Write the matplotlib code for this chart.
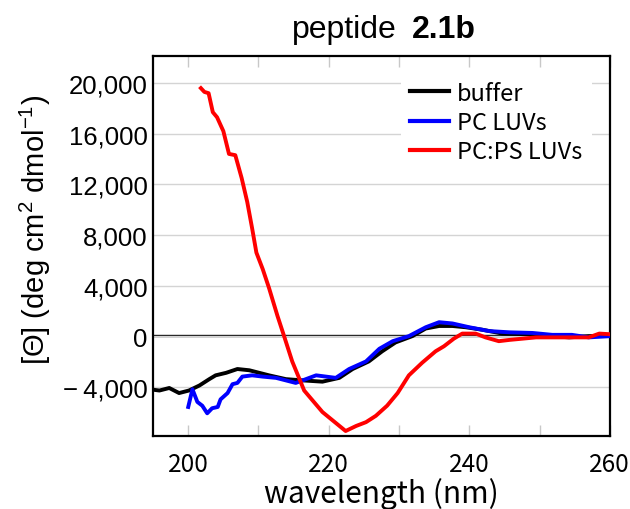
import numpy as np
import matplotlib
matplotlib.use('Agg')
from matplotlib import pyplot as plt
from matplotlib.ticker import MultipleLocator, FuncFormatter

# CD spectra (wavelength nm, mean residue ellipticity)
buffer_wl = [194.5, 195.9, 197.3, 198.7, 200.1, 201.6, 203.0, 203.9, 205.4, 207.0,
             208.7, 210.1, 211.5, 213.9, 216.3, 219.1, 221.5, 223.4, 225.7, 227.6,
             229.5, 231.9, 233.8, 235.7, 237.6, 239.5, 241.9, 244.7, 248.5, 251.8,
             254.2, 257.0, 260.0]
buffer_y = [-4200, -4300, -4100, -4500, -4300, -3900, -3400, -3100, -2900, -2600,
            -2700, -2900, -3100, -3400, -3500, -3600, -3300, -2600, -2000, -1200,
            -500, 0, 600, 800, 800, 700, 500, 200, 150, 0,
            -100, 0, 0]

pc_wl = [200.0, 200.6, 201.3, 202.0, 202.7, 203.4, 204.2, 204.6, 205.6, 206.3,
         207.0, 207.7, 209.1, 210.6, 212.5, 215.3, 218.2, 221.0, 222.9, 225.3,
         227.2, 229.1, 231.4, 233.8, 235.7, 237.6, 240.0, 242.8, 245.7, 249.0,
         251.8, 254.6, 257.0, 260.0]
pc_y = [-5600, -4200, -5200, -5500, -6100, -5700, -5600, -5000, -4500, -3800,
        -3700, -3200, -3100, -3200, -3300, -3700, -3100, -3300, -2600, -2000,
        -1000, -400, 0, 700, 1100, 1000, 700, 400, 300, 250,
        100, 100, -100, 0]

pcps_wl = [201.8, 202.3, 202.9, 203.5, 204.1, 205.0, 205.8, 206.7, 207.6, 208.4,
           209.1, 209.7, 210.6, 211.5, 212.7, 213.7, 214.8, 216.5, 219.1, 222.4,
           223.9, 225.3, 226.7, 228.3, 229.8, 231.4, 233.3, 235.2, 236.4, 237.8,
           239.0, 240.9, 242.3, 244.2, 245.7, 247.6, 249.5, 251.8, 254.2, 257.0,
           258.5, 260.0]
pcps_y = [19600, 19300, 19200, 17700, 17300, 16200, 14400, 14300, 12500, 10600,
          8500, 6600, 5300, 3800, 1600, -100, -2000, -4300, -6000, -7500,
          -7100, -6800, -6300, -5500, -4500, -3100, -2100, -1200, -800, -200,
          200, 200, -100, -400, -300, -200, -100, -100, -100, -100,
          200, 150]

labels = ['buffer', 'PC LUVs', 'PC:PS LUVs']
colors = ['black', '#0000ff', '#ff0000']

plt.rcParams['font.family'] = ['Liberation Sans', 'DejaVu Sans']
plt.rcParams['mathtext.fontset'] = 'custom'
plt.rcParams['mathtext.rm'] = 'Liberation Sans'
kr = ['Noto Sans CJK KR', 'DejaVu Sans']

fig = plt.figure(figsize=(6.3, 5.1), dpi=100)
ax = fig.add_axes([0.243, 0.143, 0.725, 0.745])

ax.axhline(0, color='black', lw=1.7, zorder=1)
for wl, y, lab, c in zip([buffer_wl, pc_wl, pcps_wl], [buffer_y, pc_y, pcps_y], labels, colors):
    ax.plot(wl, y, color=c, lw=2.8, label=lab, zorder=3, solid_joinstyle='round')

ax.set_xlim(195, 260)
ax.set_ylim(-7900, 22130)
ax.xaxis.set_major_locator(MultipleLocator(20))
ax.xaxis.set_minor_locator(MultipleLocator(10))
ax.yaxis.set_major_locator(MultipleLocator(4000))

def yfmt(v, pos):
    if v < 0:
        return '\u2212\u2009' + format(int(-v), ',')
    return format(int(v), ',')
ax.yaxis.set_major_formatter(FuncFormatter(yfmt))

ax.grid(axis='y', color='#d4d4d4', lw=1.0, zorder=0)
ax.tick_params(axis='x', which='both', direction='in', top=True, bottom=True,
               length=8, width=1, color='#c8c8c8', labelsize=17.5, pad=11)
for t in ax.get_xticklabels():
    t.set_family(kr)
ax.tick_params(axis='y', length=0, labelsize=18.5, pad=4)
for s in ax.spines.values():
    s.set_linewidth(1.6)

ax.set_xlabel('wavelength (nm)', fontsize=21.5, family=kr, labelpad=0)
ax.set_ylabel('[\u0398] (deg cm$^{\\mathregular{2}}$ dmol$^{\\mathregular{-1}}$)', fontsize=21, labelpad=7)
ax.yaxis.label.set_y(0.545)

fig.text(0.629, 0.941, 'peptide', fontsize=23, ha='right', va='center')
fig.text(0.654, 0.941, '2.1b', fontsize=23, ha='left', va='center', weight='bold')

leg = ax.legend(loc='upper right', bbox_to_anchor=(0.961, 0.958), frameon=True, edgecolor='none',
                facecolor='white', framealpha=1, handlelength=1.65, handletextpad=0.34,
                labelspacing=0.27, borderaxespad=0, prop={'family': kr, 'size': 17})
for h in leg.get_lines():
    h.set_linewidth(3)

fig.savefig('out.png', dpi=100)
